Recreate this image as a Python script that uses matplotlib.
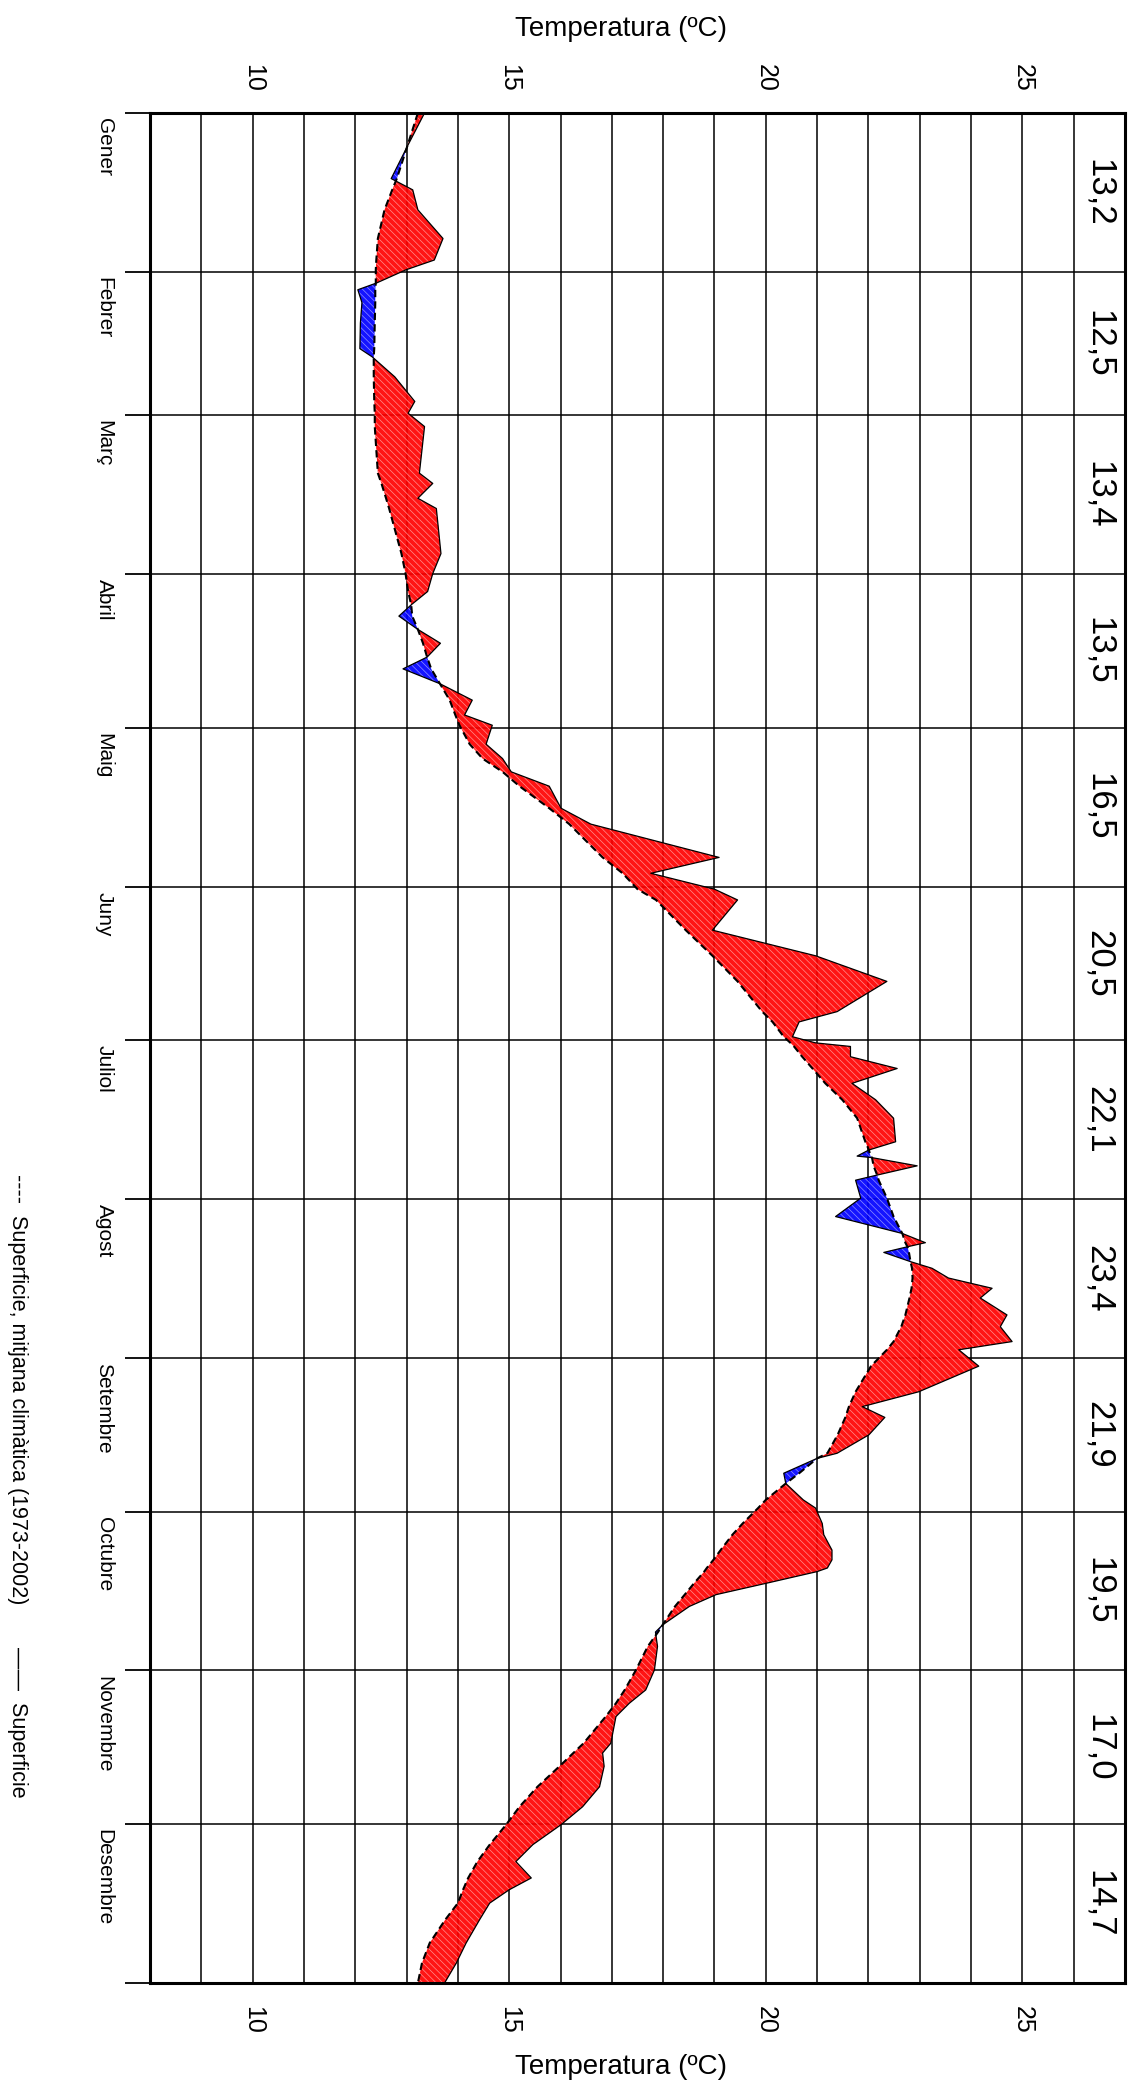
import matplotlib
matplotlib.use("Agg")
import matplotlib.pyplot as plt
import matplotlib.transforms as mtransforms
import numpy as np

plt.rcParams['hatch.linewidth'] = 0.5

# ---------------- data ----------------
month_names = ["Gener", "Febrer", "Març", "Abril", "Maig", "Juny", "Juliol",
               "Agost", "Setembre", "Octubre", "Novembre", "Desembre"]
month_starts = [0, 31, 59, 90, 120, 151, 181, 212, 243, 273, 304, 334, 365]
month_values = ["13,2", "12,5", "13,4", "13,5", "16,5", "20,5", "22,1",
                "23,4", "21,9", "19,5", "17,0", "14,7"]
temp_ticks = [10, 15, 20, 25]

days = [0, 6.6, 12.8, 15.0, 18.9, 24.5, 28.7, 30.6, 33.2, 34.5, 37.0, 41.0, 46.0,
        47.6, 51.5, 56.3, 58.6, 61.2, 70.3, 72.3, 75.2, 77.2, 86.0, 89.9, 93.4,
        96.0, 98.2, 100.8, 103.5, 106.2, 108.5, 111.4, 114.6, 117.5, 119.5, 123.2,
        126.0, 128.6, 131.4, 135.7, 138.8, 145.3, 148.4, 151.5, 153.6, 159.5, 164.5,
        169.5, 175.4, 177.4, 180.3, 181.5, 182.2, 184.2, 186.5, 189.4, 192.6, 196.2,
        200.8, 202.4, 203.6, 203.9, 205.5, 207.3, 208.3, 211.8, 215.4, 218.7, 220.5,
        221.3, 222.4, 224.2, 225.5, 227.4, 229.4, 231.3, 234.6, 236.9, 239.8, 241.4,
        244.6, 249.6, 252.5, 254.6, 258.0, 261.6, 262.6, 265.5, 267.5, 270.7, 272.3,
        275.3, 277.5, 280.5, 282.4, 284.0, 284.7, 287.0, 289.2, 291.5, 295.1, 296.5,
        299.3, 303.9, 307.8, 310.4, 313.0, 318.2, 320.1, 322.7, 326.7, 330.6, 334.1,
        338.0, 341.3, 344.5, 346.8, 349.4, 352.7, 357.2, 361.1, 365.0]

surface = [13.35, 13.01, 12.70, 13.12, 13.22, 13.71, 13.54, 12.99, 12.41, 12.05, 12.13,
           12.10, 12.09, 12.33, 12.77, 13.16, 13.03, 13.35, 13.25, 13.51, 13.22, 13.58,
           13.67, 13.51, 13.41, 13.09, 12.85, 13.22, 13.66, 13.40, 12.93, 13.65, 14.28,
           14.13, 14.67, 14.55, 14.87, 15.04, 15.78, 16.01, 16.59, 19.09, 17.76, 19.00,
           19.45, 18.96, 20.97, 22.36, 21.39, 20.65, 20.52, 20.97, 21.65, 21.65, 22.56,
           21.68, 22.14, 22.49, 22.53, 22.01, 21.78, 22.07, 22.95, 22.17, 21.75, 21.85,
           21.36, 22.66, 23.11, 22.76, 22.30, 22.82, 23.24, 23.56, 24.41, 24.18, 24.70,
           24.57, 24.80, 23.76, 24.15, 22.98, 21.88, 22.32, 22.01, 21.39, 21.00, 20.35,
           20.39, 20.73, 20.97, 21.10, 21.13, 21.29, 21.29, 21.20, 21.00, 20.00, 19.03,
           18.51, 17.99, 17.85, 17.89, 17.83, 17.66, 17.34, 17.08, 16.98, 16.82, 16.85,
           16.76, 16.43, 16.01, 15.46, 15.13, 15.43, 15.00, 14.62, 14.42, 14.16, 13.97,
           13.74]

climate = [13.22, 13.01, 12.81, 12.72, 12.57, 12.44, 12.41, 12.40, 12.40, 12.39, 12.39,
           12.38, 12.37, 12.36, 12.36, 12.37, 12.38, 12.38, 12.44, 12.51, 12.60, 12.66,
           12.90, 12.98, 13.03, 13.09, 13.11, 13.22, 13.32, 13.40, 13.48, 13.65, 13.84,
           13.95, 14.03, 14.23, 14.48, 14.87, 15.20, 15.78, 16.17, 16.82, 17.21, 17.50,
           17.86, 18.44, 18.96, 19.45, 19.93, 20.13, 20.35, 20.48, 20.55, 20.71, 20.91,
           21.16, 21.49, 21.78, 21.94, 22.01, 22.04, 22.07, 22.10, 22.17, 22.20, 22.36,
           22.49, 22.66, 22.72, 22.76, 22.79, 22.82, 22.85, 22.86, 22.84, 22.80, 22.72,
           22.64, 22.49, 22.36, 22.05, 21.75, 21.62, 21.55, 21.40, 21.20, 21.00, 20.65,
           20.39, 20.00, 19.85, 19.55, 19.35, 19.12, 18.98, 18.85, 18.80, 18.60, 18.42,
           18.23, 17.99, 17.90, 17.70, 17.47, 17.25, 17.08, 16.88, 16.45, 16.25, 15.98,
           15.55, 15.20, 14.94, 14.62, 14.38, 14.20, 14.10, 14.00, 13.75, 13.45, 13.30,
           13.22]

# ---------------- figure ----------------
W, H = 1135, 2087
fig = plt.figure(figsize=(W / 100, H / 100), dpi=100)
fx = lambda px: px / W
fy = lambda py: 1 - py / H

ax = fig.add_axes([fx(150), fy(1983), fx(1125) - fx(150), fy(113) - fy(1983)])
ax.set_xlim(8, 27)
ax.set_ylim(365, 0)

font = ['Liberation Sans', 'DejaVu Sans']

d = np.array(days)
s = np.array(surface)
c = np.array(climate)

ax.fill_betweenx(d, c, s, where=s >= c, interpolate=True, facecolor='#ff0000',
                 edgecolor='#ff9a9a', hatch='\\' * 5, linewidth=0, alpha=0.92, zorder=2)
ax.fill_betweenx(d, c, s, where=s < c, interpolate=True, facecolor='#0000ff',
                 edgecolor='#9a9aff', hatch='\\' * 5, linewidth=0, alpha=0.92, zorder=2)
ax.plot(c, d, color='black', lw=1.5, ls=(0, (3.5, 2)), zorder=3)
ax.plot(s, d, color='black', lw=0.9, zorder=3)

# grid
ax.set_xticks(np.arange(8, 28))
ax.set_yticks(month_starts)
ax.grid(True, color='black', lw=1.1, zorder=0)
ax.set_axisbelow(True)
ax.tick_params(axis='x', length=0, labelbottom=False, labeltop=False)
ax.tick_params(axis='y', length=18, width=1.3, direction='out', left=True,
               right=False, labelleft=False)
for sp in ax.spines.values():
    sp.set_linewidth(2.2)

# monthly values column
for i, v in enumerate(month_values):
    mid = (month_starts[i] + month_starts[i + 1]) / 2
    ax.text(26.5, mid, v, rotation=-90, ha='center', va='center',
            fontsize=25, family=font, zorder=4)

# month labels (left side)
tr_month = mtransforms.blended_transform_factory(fig.transFigure, ax.transData)
for i, name in enumerate(month_names):
    ax.text(fx(104), month_starts[i] + 1, name, transform=tr_month, rotation=-90,
            ha='center', va='top', fontsize=15, family=font, clip_on=False)

# temperature tick labels top and bottom
tr_tick = mtransforms.blended_transform_factory(ax.transData, fig.transFigure)
for t in temp_ticks:
    ax.text(t, fy(78), str(t), transform=tr_tick, rotation=-90, ha='center',
            va='center', fontsize=18, family=font, clip_on=False)
    ax.text(t, fy(2020), str(t), transform=tr_tick, rotation=-90, ha='center',
            va='center', fontsize=18, family=font, clip_on=False)

# axis titles
fig.text(fx(621), fy(29), "Temperatura (ºC)", ha='center', va='center',
         fontsize=20, family=font)
fig.text(fx(621), fy(2067), "Temperatura (ºC)", ha='center', va='center',
         fontsize=20, family=font)

# legend (rotated text at the far left)
fig.text(fx(17), fy(1174), "----  Superficie, mitjana climàtica (1973-2002)",
         rotation=-90, ha='center', va='top', fontsize=15.5, family=font)
fig.text(fx(17), fy(1647), "——  Superficie",
         rotation=-90, ha='center', va='top', fontsize=15.5, family=font)

fig.savefig("out.png", dpi=100)
